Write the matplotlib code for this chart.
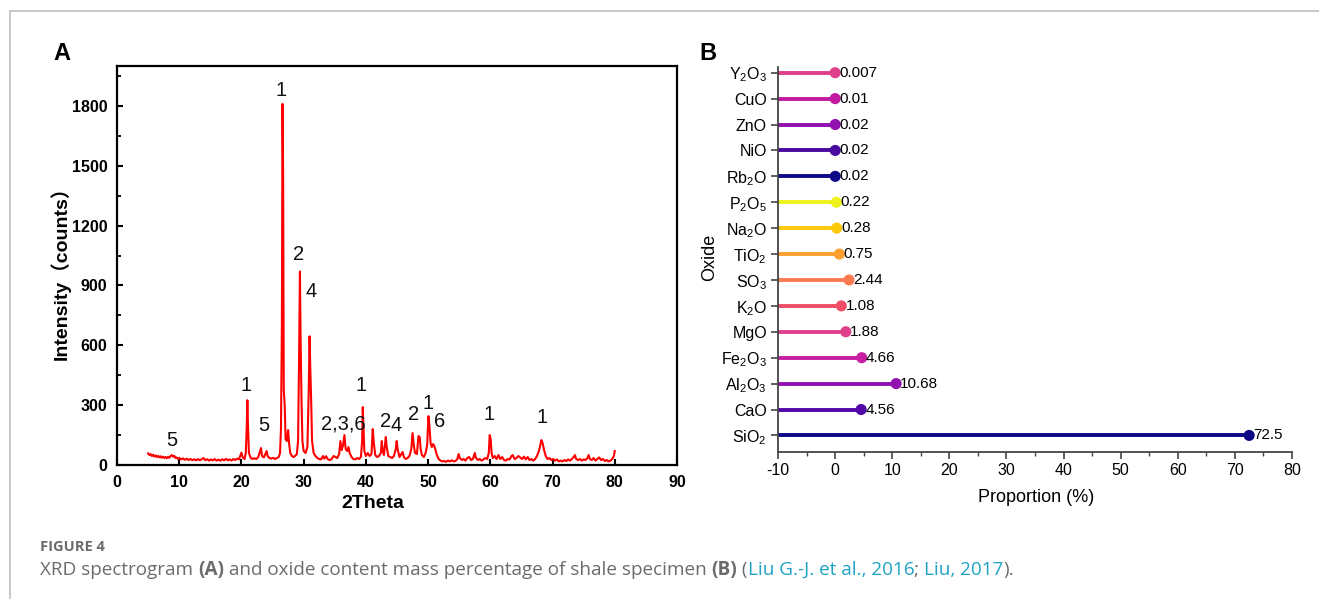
import matplotlib
matplotlib.use("Agg")
import matplotlib.pyplot as plt
from matplotlib.lines import Line2D
from matplotlib.ticker import MultipleLocator

plt.rcParams['mathtext.default'] = 'regular'
plt.rcParams['axes.unicode_minus'] = False
plt.rcParams['font.family'] = ['Liberation Sans', 'Noto Sans CJK SC']

# ---------------- Panel A data ----------------
xrd_points = [
    (5.0, 58), (5.2, 50), (5.4, 55), (5.6, 45), (5.8, 52), (6.0, 42), (6.2, 48), (6.4, 40),
    (6.6, 46), (6.8, 38), (7.0, 44), (7.2, 36), (7.4, 42), (7.6, 35), (7.8, 40), (8.0, 34),
    (8.2, 41), (8.4, 36), (8.6, 45), (8.8, 50), (9.0, 42), (9.2, 46), (9.4, 35), (9.6, 38),
    (9.8, 30), (10.0, 36), (10.3, 28), (10.6, 33), (10.9, 26), (11.2, 32), (11.5, 25), (11.8, 30),
    (12.1, 24), (12.4, 29), (12.7, 23), (13.0, 30), (13.3, 24), (13.6, 28), (13.9, 35), (14.2, 24),
    (14.5, 29), (14.8, 22), (15.1, 28), (15.4, 23), (15.7, 30), (16.0, 22), (16.3, 27), (16.6, 21),
    (16.9, 29), (17.2, 23), (17.5, 31), (17.8, 24), (18.1, 28), (18.4, 22), (18.7, 30), (19.0, 25),
    (19.3, 32), (19.6, 28), (19.8, 45), (20.0, 62), (20.2, 38), (20.5, 30), (20.7, 60), (20.85, 190),
    (20.95, 325), (21.05, 200), (21.2, 60), (21.5, 35), (21.8, 30), (22.1, 34), (22.4, 30), (22.7, 40),
    (23.0, 70), (23.15, 85), (23.3, 45), (23.6, 38), (23.9, 60), (24.05, 70), (24.2, 45), (24.5, 35),
    (24.8, 32), (25.1, 36), (25.4, 30), (25.7, 35), (26.0, 40), (26.2, 60), (26.35, 180), (26.5, 700),
    (26.6, 1810), (26.7, 1450), (26.8, 380), (26.95, 300), (27.1, 130), (27.3, 120), (27.5, 175),
    (27.65, 110), (27.85, 60), (28.1, 45), (28.4, 40), (28.7, 48), (28.9, 55), (29.1, 120),
    (29.25, 500), (29.4, 970), (29.5, 650), (29.65, 330), (29.8, 120), (30.0, 70), (30.3, 60),
    (30.6, 90), (30.8, 350), (30.95, 645), (31.05, 500), (31.2, 330), (31.35, 120), (31.6, 60),
    (31.9, 45), (32.2, 35), (32.5, 30), (32.8, 28), (33.1, 45), (33.3, 32), (33.6, 44), (33.9, 28),
    (34.2, 25), (34.5, 30), (34.8, 45), (35.1, 40), (35.4, 35), (35.7, 55), (35.9, 120), (36.1, 75),
    (36.3, 95), (36.55, 150), (36.75, 80), (37.0, 70), (37.2, 90), (37.4, 60), (37.7, 40), (38.0, 30),
    (38.3, 28), (38.6, 35), (38.9, 30), (39.2, 40), (39.4, 120), (39.5, 290), (39.6, 200), (39.75, 70),
    (40.0, 45), (40.3, 60), (40.6, 45), (40.9, 55), (41.1, 180), (41.25, 120), (41.5, 50), (41.8, 40),
    (42.1, 45), (42.4, 60), (42.55, 120), (42.7, 70), (42.9, 50), (43.2, 140), (43.35, 90), (43.6, 45),
    (43.9, 40), (44.2, 35), (44.5, 45), (44.8, 80), (44.95, 120), (45.1, 80), (45.4, 40), (45.7, 55),
    (45.9, 65), (46.1, 40), (46.4, 30), (46.7, 35), (47.0, 45), (47.3, 80), (47.5, 160), (47.7, 100),
    (47.9, 60), (48.2, 55), (48.45, 145), (48.65, 140), (48.8, 80), (49.0, 50), (49.3, 40), (49.6, 60),
    (49.85, 100), (50.05, 245), (50.2, 200), (50.4, 110), (50.6, 90), (50.8, 105), (51.0, 95),
    (51.2, 75), (51.4, 50), (51.7, 30), (52.0, 22), (52.3, 18), (52.6, 20), (52.9, 16), (53.2, 22),
    (53.5, 18), (53.8, 24), (54.1, 18), (54.4, 20), (54.7, 30), (54.9, 55), (55.1, 35), (55.4, 25),
    (55.7, 30), (56.0, 22), (56.3, 35), (56.6, 40), (56.9, 25), (57.2, 30), (57.5, 60), (57.7, 35),
    (58.0, 25), (58.3, 30), (58.6, 22), (58.9, 28), (59.2, 35), (59.5, 30), (59.75, 60), (59.9, 150),
    (60.05, 130), (60.2, 60), (60.4, 35), (60.7, 45), (61.0, 30), (61.3, 50), (61.6, 30), (61.9, 40),
    (62.2, 25), (62.5, 22), (62.8, 30), (63.1, 28), (63.4, 45), (63.6, 50), (63.9, 30), (64.2, 35),
    (64.5, 45), (64.8, 38), (65.1, 30), (65.4, 42), (65.7, 28), (66.0, 40), (66.3, 25), (66.6, 30),
    (66.9, 22), (67.2, 30), (67.5, 45), (67.8, 70), (68.0, 95), (68.2, 125), (68.4, 110), (68.6, 80),
    (68.9, 45), (69.2, 30), (69.5, 35), (69.8, 25), (70.1, 30), (70.4, 22), (70.7, 28), (71.0, 18),
    (71.3, 22), (71.6, 18), (71.9, 25), (72.2, 20), (72.5, 28), (72.8, 22), (73.1, 30), (73.4, 40),
    (73.6, 50), (73.8, 30), (74.1, 25), (74.4, 30), (74.7, 22), (75.0, 28), (75.3, 25), (75.6, 35),
    (75.8, 50), (76.0, 30), (76.3, 25), (76.6, 35), (76.9, 22), (77.2, 30), (77.5, 38), (77.8, 25),
    (78.1, 30), (78.4, 20), (78.7, 25), (79.0, 18), (79.3, 22), (79.6, 30), (79.85, 45), (80.0, 70),
]
two_theta = [p[0] for p in xrd_points]
intensity = [p[1] for p in xrd_points]

peak_labels = ["1", "2", "4", "1", "5", "5", "2,3,6", "1", "2", "4", "2", "1", "6", "1", "1"]
peak_label_x = [26.4, 29.2, 31.2, 20.7, 23.6, 8.8, 36.3, 39.2, 43.1, 44.9, 47.6, 50.0, 51.8, 59.8, 68.3]
peak_label_y = [1875, 1055, 870, 400, 200, 125, 205, 400, 220, 200, 255, 310, 220, 255, 240]

# ---------------- Panel B data ----------------
oxides = ["SiO$_2$", "CaO", "Al$_2$O$_3$", "Fe$_2$O$_3$", "MgO", "K$_2$O", "SO$_3$", "TiO$_2$",
          "Na$_2$O", "P$_2$O$_5$", "Rb$_2$O", "NiO", "ZnO", "CuO", "Y$_2$O$_3$"]
proportion = [72.5, 4.56, 10.68, 4.66, 1.88, 1.08, 2.44, 0.75, 0.28, 0.22, 0.02, 0.02, 0.02, 0.01, 0.007]
proportion_text = ["72.5", "4.56", "10.68", "4.66", "1.88", "1.08", "2.44", "0.75", "0.28", "0.22",
                   "0.02", "0.02", "0.02", "0.01", "0.007"]
oxide_colors = ["#0d0887", "#5208a8", "#9010b0", "#c81ea0", "#e0408a", "#f04e64", "#fc7a50",
                "#fba030", "#fcc80a", "#eef21a", "#0d0887", "#4a0aa0", "#9010b0", "#c01aa0", "#e0408a"]

W, H = 1319, 599
fig = plt.figure(figsize=(W / 100, H / 100), dpi=100)

# frame lines of the page
fig.add_artist(Line2D([10 / W, 10 / W], [0, 1 - 11 / H], transform=fig.transFigure,
                      color="#c4c4c4", lw=1.3))
fig.add_artist(Line2D([10 / W, 1.0], [1 - 11 / H, 1 - 11 / H], transform=fig.transFigure,
                      color="#c4c4c4", lw=1.3))

# ---------------- Panel A ----------------
axA = fig.add_axes([117 / W, 1 - 465 / H, (677 - 117) / W, (465 - 66) / H])
axA.plot(two_theta, intensity, color="#ff0000", lw=1.5)
axA.set_xlim(0, 90)
axA.set_ylim(0, 2000)
axA.xaxis.set_major_locator(MultipleLocator(10))
axA.yaxis.set_major_locator(MultipleLocator(300))
axA.yaxis.set_minor_locator(MultipleLocator(150))
for s in axA.spines.values():
    s.set_linewidth(1.6)
axA.tick_params(axis="both", which="major", direction="in", length=4, width=1.5,
                labelsize=11.5, pad=7)
axA.tick_params(axis="y", which="minor", direction="in", length=3, width=1.3)
axA.tick_params(axis="x", which="minor", length=0)
for lab in axA.get_xticklabels() + axA.get_yticklabels():
    lab.set_fontweight("bold")
for t, x, y in zip(peak_labels, peak_label_x, peak_label_y):
    axA.text(x, y, t, ha="center", va="center", fontsize=14.5, color="#111111")

fig.text(60 / W, 1 - 268 / H, "Intensity（counts）", rotation=90, ha="center", va="center",
         fontsize=14, fontweight="bold")
fig.text(373 / W, 1 - 503 / H, "2Theta", ha="center", va="center", fontsize=14, fontweight="bold")
fig.text(62 / W, 1 - 53 / H, "A", ha="center", va="center", fontsize=17, fontweight="bold")

# ---------------- Panel B ----------------
axB = fig.add_axes([778 / W, 1 - 452 / H, (1292 - 778) / W, (452 - 67) / H])
ypos = list(range(len(oxides)))
axB.set_xlim(-10, 80)
axB.set_ylim(-0.64, len(oxides) - 1 + 0.22)
axB.hlines(ypos, -10, proportion, colors=oxide_colors, lw=2.8)
axB.scatter(proportion, ypos, s=64, c=oxide_colors, zorder=3, linewidths=0)
for y, v, t in zip(ypos, proportion, proportion_text):
    axB.annotate(t, (v, y), xytext=(3, 0), textcoords="offset points", ha="left", va="center",
                 fontsize=11)
axB.set_yticks(ypos)
axB.set_yticklabels(oxides)
axB.xaxis.set_major_locator(MultipleLocator(10))
axB.xaxis.set_minor_locator(MultipleLocator(5))
axB.spines["top"].set_visible(False)
axB.spines["right"].set_visible(False)
for s in ("left", "bottom"):
    axB.spines[s].set_color("#444444")
    axB.spines[s].set_linewidth(1.3)
axB.tick_params(axis="both", which="major", direction="out", length=5, width=1.2,
                color="#444444", labelsize=11.5, pad=3)
axB.tick_params(axis="x", which="minor", direction="out", length=3, width=1.0, color="#444444")
fig.text(710 / W, 1 - 257 / H, "Oxide", rotation=90, ha="center", va="center", fontsize=13)
fig.text(1036 / W, 1 - 498 / H, "Proportion (%)", ha="center", va="center", fontsize=13)
fig.text(708 / W, 1 - 53 / H, "B", ha="center", va="center", fontsize=17, fontweight="bold")

# ---------------- Caption ----------------
cap_font = ["Open Sans", "DejaVu Sans"]
gray = "#6b6b6b"
teal = "#1fa3c4"
fig.text(40 / W, 1 - 547 / H, "FIGURE 4", ha="left", va="center", fontsize=10.5,
         fontweight="bold", color=gray, family=cap_font)
pieces = [("XRD spectrogram ", gray, "normal"), ("(A)", gray, "bold"),
          (" and oxide content mass percentage of shale specimen ", gray, "normal"),
          ("(B)", gray, "bold"), (" (", gray, "normal"), ("Liu G.-J. et al., 2016", teal, "normal"),
          ("; ", gray, "normal"), ("Liu, 2017", teal, "normal"), (").", gray, "normal")]
renderer = fig.canvas.get_renderer()
xcur = 40
for s, c, w in pieces:
    t = fig.text(xcur / W, 1 - 570 / H, s, ha="left", va="center", fontsize=13.6, color=c,
                 fontweight=w, family=cap_font)
    bb = t.get_window_extent(renderer)
    xcur = bb.x1

fig.savefig("out.png", dpi=100)
